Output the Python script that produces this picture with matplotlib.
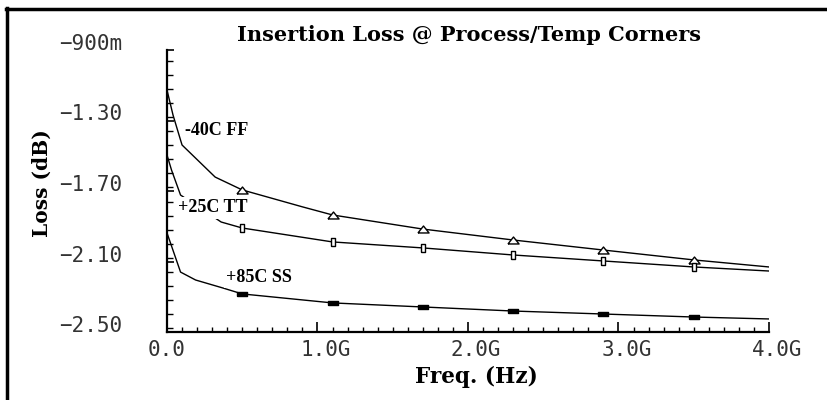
import matplotlib
matplotlib.use("Agg")
import matplotlib.pyplot as plt
import matplotlib.transforms as mtransforms
from matplotlib.lines import Line2D
from matplotlib.ticker import MultipleLocator

# data (freq in GHz, loss in dB)
ff_f = [0.0, 0.04, 0.09, 0.10, 0.32, 0.5, 0.9, 1.1, 1.7, 2.3, 2.9, 3.5, 4.0]
ff_db = [-1.127, -1.269, -1.411, -1.439, -1.621, -1.694, -1.790, -1.836, -1.916, -1.978, -2.035, -2.091, -2.131]

tt_f = [0.0, 0.03, 0.09, 0.36, 0.5, 1.1, 1.7, 2.3, 2.9, 3.5, 4.0]
tt_db = [-1.496, -1.581, -1.723, -1.876, -1.910, -1.989, -2.023, -2.063, -2.097, -2.131, -2.154]

ss_f = [0.0, 0.09, 0.19, 0.37, 0.5, 1.1, 1.7, 2.3, 2.9, 3.5, 4.0]
ss_db = [-1.938, -2.160, -2.205, -2.250, -2.284, -2.335, -2.358, -2.381, -2.398, -2.415, -2.426]

mark_f = [0.5, 1.1, 1.7, 2.3, 2.9, 3.5]

xticks = [0, 1, 2, 3, 4]
xtick_labels = ["0.0", "1.0G", "2.0G", "3.0G", "4.0G"]
yticks = [-0.9, -1.3, -1.7, -2.1, -2.5]
ytick_labels = ["\u2212900m", "\u22121.30", "\u22121.70", "\u22122.10", "\u22122.50"]

serif = ["DejaVu Serif"]
times = ["Liberation Serif", "DejaVu Serif"]
mono = ["DejaVu Sans Mono"]

fig = plt.figure(figsize=(8.28, 4.0), dpi=100)
ax = fig.add_axes([167 / 828, 68 / 400, 602 / 828, 282 / 400])

def marks(f, db):
    # pick marker points out of the curve
    return [db[f.index(m)] for m in mark_f]

tri = [(-1.6, -1), (1.6, -1), (0, 1), (-1.6, -1)]
ax.plot(ff_f, ff_db, color="black", lw=1.0)
ax.plot(mark_f, marks(ff_f, ff_db), ls="none", marker=tri, ms=8, mfc="white", mec="black", mew=1.0)

rect_tall = [(-1, -1.7), (1, -1.7), (1, 1.7), (-1, 1.7), (-1, -1.7)]
ax.plot(tt_f, tt_db, color="black", lw=1.0)
ax.plot(mark_f, marks(tt_f, tt_db), ls="none", marker=rect_tall, ms=6, mfc="white", mec="black", mew=1.0)

rect_wide = [(-2, -1), (2, -1), (2, 1), (-2, 1), (-2, -1)]
ax.plot(ss_f, ss_db, color="black", lw=1.0)
ax.plot(mark_f, marks(ss_f, ss_db), ls="none", marker=rect_wide, ms=7, mfc="black", mec="black")

lbl_box = dict(facecolor="white", edgecolor="none", pad=2.0)
ax.text(0.12, -1.354, "-40C FF", family=times, weight="bold", fontsize=13, ha="left", va="center", bbox=lbl_box, zorder=5)
ax.text(0.074, -1.796, "+25C TT", family=times, weight="bold", fontsize=13, ha="left", va="center", bbox=lbl_box, zorder=5)
ax.text(0.395, -2.188, "+85C SS", family=times, weight="bold", fontsize=13, ha="left", va="center", bbox=lbl_box, zorder=5)

ax.set_xlim(0, 4)
ax.set_ylim(-2.5, -0.9)
ax.spines["top"].set_visible(False)
ax.spines["right"].set_visible(False)
ax.spines["left"].set_linewidth(1.6)
ax.spines["bottom"].set_linewidth(1.6)

ax.set_xticks(xticks)
ax.set_xticklabels(xtick_labels, family=mono, fontsize=15, color="#333333")
ax.xaxis.set_minor_locator(MultipleLocator(0.1))
ax.set_yticks(yticks)
ax.set_yticklabels(ytick_labels, family=mono, fontsize=15, color="#333333")
ax.yaxis.set_minor_locator(MultipleLocator(0.08))

ax.tick_params(axis="x", which="major", direction="in", length=7.5, width=1.2, pad=6)
ax.tick_params(axis="x", which="minor", direction="in", length=3.5, width=1.0)
ax.tick_params(axis="y", which="major", direction="in", length=5, width=1.2, pad=78)
ax.tick_params(axis="y", which="minor", direction="in", length=4.5, width=1.0)

for t in ax.get_yticklabels():
    t.set_horizontalalignment("left")
    t.set_verticalalignment("baseline")

# number part centred on tick, the "G" hangs to the right
shift = mtransforms.ScaledTranslation(8 / 100, 0, fig.dpi_scale_trans)
for t in ax.get_xticklabels()[1:]:
    t.set_transform(t.get_transform() + shift)

fig.text(476 / 828, 1 - 377 / 400, "Freq. (Hz)", family=serif, weight="bold", fontsize=15.5,
         ha="center", va="center")
fig.text(42 / 828, 1 - 183 / 400, "Loss (dB)", family=serif, weight="bold", fontsize=14.5,
         rotation=90, ha="center", va="center")
fig.text(469 / 828, 1 - 35 / 400, "Insertion Loss @ Process/Temp Corners", family=serif,
         weight="bold", fontsize=15, ha="center", va="center")

# frame lines on the left and top edge
fig.add_artist(Line2D([7 / 828, 7 / 828], [0, 1 - 8 / 400], color="black", lw=2.5, transform=fig.transFigure))
fig.add_artist(Line2D([6 / 828, 1], [1 - 9 / 400, 1 - 9 / 400], color="black", lw=2.5, transform=fig.transFigure))

fig.savefig("out.png", dpi=100)
